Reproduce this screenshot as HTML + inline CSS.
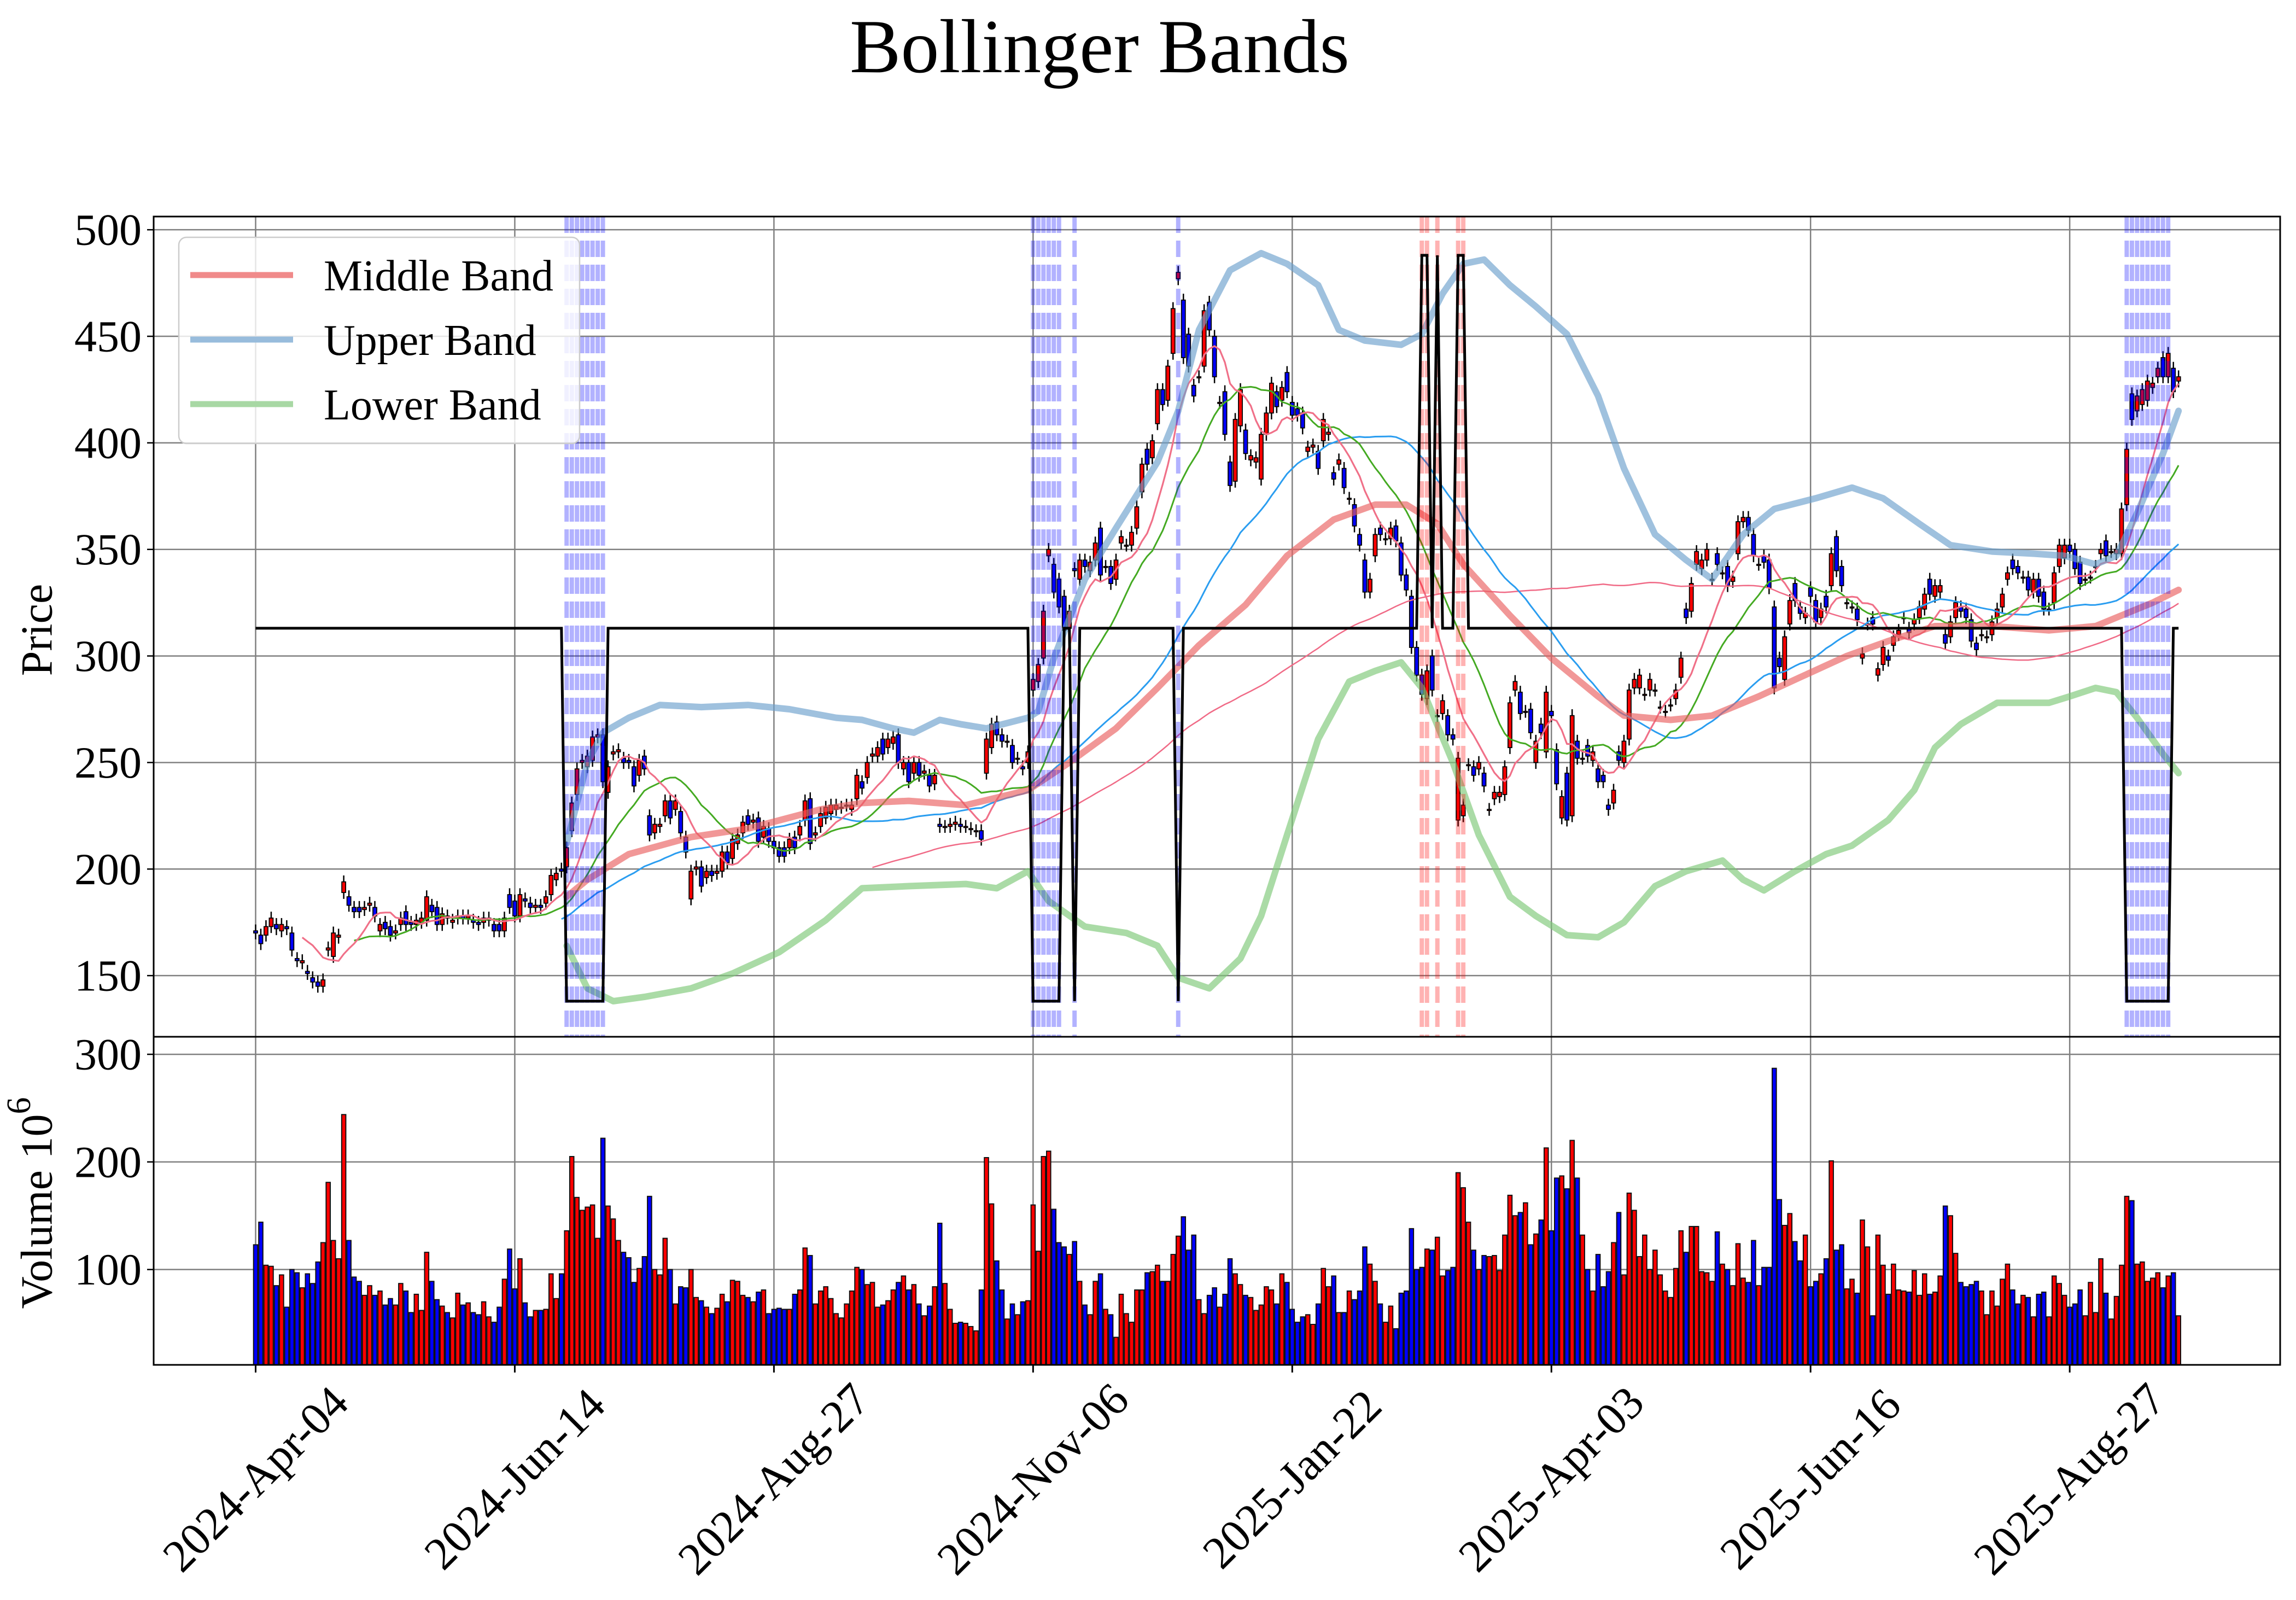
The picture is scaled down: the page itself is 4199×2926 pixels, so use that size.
<!DOCTYPE html>
<html><head><meta charset="utf-8"><title>Bollinger Bands</title>
<style>
html,body{margin:0;padding:0;background:#fff;}
svg{display:block;font-family:"Liberation Serif","DejaVu Serif",serif;}
</style></head>
<body>
<svg id="chart" xmlns="http://www.w3.org/2000/svg" width="4199" height="2926" viewBox="0 0 4199 2926">
<rect x="0" y="0" width="4199" height="2926" fill="#fff"/>
<text x="2011" y="132" font-size="140" text-anchor="middle" fill="#000">Bollinger Bands</text>
<g id="priceGrid"></g>
<g id="volGrid"></g>
<g id="candles"></g>
<g id="mas"></g>
<g id="bands"></g>
<g id="signals"></g>
<g id="sigline"></g>
<g id="volume"></g>
<g id="axes"></g>
<g id="legend">
  <rect x="327" y="434" width="733" height="377" rx="14" fill="#fff" fill-opacity="0.8" stroke="#cccccc" stroke-width="2.5"/>
  <line x1="348" y1="503" x2="536" y2="503" stroke="#f08a8a" stroke-width="11"/>
  <text x="592" y="531" font-size="80">Middle Band</text>
  <line x1="348" y1="621" x2="536" y2="621" stroke="#98bcdc" stroke-width="11"/>
  <text x="592" y="649" font-size="80">Upper Band</text>
  <line x1="348" y1="739" x2="536" y2="739" stroke="#a8d8a4" stroke-width="11"/>
  <text x="592" y="767" font-size="80">Lower Band</text>
</g>
</svg>
<script>
const opens = [
171,169,169,173,174,171,173,170,158,156,152,149,147,145,162,159,168,189,187,182,
182,181,183,182,171,175,173,170,174,180,175,174,175,176,183,182,174,178,175,177,
178,177,176,175,175,176,174,174,171,188,185,178,186,184,182,183,184,188,195,200,
201,218,235,250,248,251,262,263,236,254,255,252,251,248,244,253,225,217,220,225,
232,228,227,215,186,200,201,196,199,198,199,208,205,212,217,225,222,224,215,219,
213,210,210,210,215,216,223,233,216,220,224,226,228,229,230,228,233,241,243,253,
253,261,257,259,263,247,250,245,250,245,244,240,221,220,220,221,221,220,219,218,
218,245,257,269,263,260,258,252,248,250,284,288,299,347,343,336,328,313,341,336,
345,340,345,360,342,342,336,353,352,352,360,377,397,393,409,425,420,442,477,467,
451,427,431,436,466,450,419,424,391,382,408,406,392,391,383,404,414,424,420,433,
419,416,414,396,398,396,401,404,386,390,388,374,371,357,345,330,347,360,355,355,
361,353,338,328,304,291,280,300,272,273,272,263,223,225,249,248,247,245,228,233,
234,235,257,284,283,274,275,250,268,255,274,256,224,245,225,260,252,258,251,247,
244,230,231,255,250,261,285,285,282,284,284,276,274,277,280,290,322,321,343,341,
345,336,348,339,342,335,348,363,365,357,343,347,345,323,299,289,315,334,323,318,
332,326,318,328,333,356,342,325,323,322,299,315,318,291,296,300,305,310,318,313,
315,318,322,336,328,330,310,309,318,323,322,317,306,310,309,310,318,323,336,345,
342,337,337,330,336,330,322,325,342,346,352,350,344,336,337,342,348,354,349,348,
348,371,423,415,418,420,426,431,440,431,435,429];
const closes = [
170,165,173,177,172,174,172,162,157,157,151,147,145,148,163,170,169,194,183,180,
180,182,184,178,174,172,169,171,177,174,174,176,177,187,180,174,179,177,176,178,
177,178,175,174,177,177,171,171,177,182,178,188,185,182,183,182,187,197,198,199,
210,231,247,251,253,262,263,241,248,255,256,250,250,239,251,247,216,221,221,232,
224,232,217,208,199,201,192,199,197,199,208,203,214,216,222,221,223,213,220,213,
210,206,206,214,210,220,232,212,217,226,229,230,230,229,230,230,244,238,250,254,
257,254,261,262,250,250,241,250,244,246,239,244,220,220,221,222,220,220,219,218,
214,261,268,263,260,260,250,252,247,255,289,296,321,350,330,323,312,321,340,345,
342,344,353,338,342,334,345,356,352,358,370,390,390,401,425,418,436,463,480,440,
436,422,431,462,453,431,419,404,380,411,425,395,394,393,404,414,428,417,426,424,
413,413,407,398,399,388,411,405,383,392,379,374,361,352,330,336,357,357,355,360,
354,338,331,304,291,282,293,284,272,279,263,261,252,230,249,244,250,239,228,236,
236,248,278,288,273,274,264,260,264,283,272,240,234,223,272,252,252,253,255,241,
241,228,237,251,260,284,289,291,282,289,284,276,274,277,284,299,318,334,349,345,
350,336,343,339,333,337,363,365,359,347,343,344,332,285,295,309,326,326,320,320,
328,316,322,323,348,340,333,325,323,317,301,315,315,294,304,298,309,312,318,311,
317,323,329,329,333,333,306,316,325,321,318,307,303,310,309,316,322,329,339,341,
339,337,331,336,328,322,322,339,352,352,349,341,334,336,337,342,350,347,349,350,
369,397,411,422,425,429,428,435,431,442,424,431];
const volumes = [
123,144,104,103,85,95,65,100,97,83,96,87,107,125,181,127,110,244,127,93,
89,76,85,76,80,67,73,67,87,80,60,77,62,116,89,72,66,60,55,78,
67,69,60,58,70,56,51,65,91,119,82,110,69,56,62,62,63,96,73,96,
136,205,167,155,158,160,129,222,159,147,127,116,111,88,101,112,168,100,95,129,
100,68,84,83,100,74,71,65,59,64,77,
70,90,89,76,74,70,79,81,59,63,64,63,63,77,81,120,113,68,80,84,
73,59,55,68,80,102,100,86,88,65,67,71,81,88,94,81,86,68,57,66,
84,143,87,63,50,51,50,47,43,81,204,161,108,81,54,68,58,70,71,160,
117,205,210,156,125,121,114,126,89,67,58,89,96,63,58,37,77,59,51,81,
81,97,98,104,89,89,114,131,149,118,132,72,59,76,83,65,77,110,96,86,
76,74,62,67,84,81,
68,96,88,63,51,56,58,49,68,101,84,94,60,60,80,72,80,121,105,89,
68,51,66,45,78,80,138,100,102,119,118,130,94,99,102,190,176,144,118,100,
113,112,113,99,132,169,150,153,162,123,133,146,213,136,185,187,175,220,185,132,
100,80,114,84,98,125,153,95,171,155,112,132,100,118,95,80,74,101,136,116,
140,140,98,97,89,135,105,100,85,124,92,88,127,85,102,102,287,165,141,
152,126,108,132,84,89,96,110,201,118,123,82,91,78,146,121,57,132,104,77,
105,81,80,79,99,76,96,77,79,94,159,150,115,88,84,86,89,80,58,80,
66,91,105,81,68,76,74,56,77,79,56,94,87,76,65,68,81,57,88,60,
110,78,54,75,104,168,164,105,107,89,92,97,83,94,97,57];
// Bollinger band readings (sampled at bar indices)
const upperIdx = [60,64,67,72,78,86,95,103,112,117,123,127,132,136,141,149,151,154,160,166,174,178,182,188,194,199,205,209,214,221,225,229,233,237,242,247,253,259,264,270,276,281,287,293,301,308,314,321,327,335,343,349,355,359,363,368,371];
const upperVals = [212,250,264,271,277,276,277,275,271,270,266,264,270,268,266,271,274,299,336,360,391,415,453,481,489,484,474,453,448,446,451,470,484,486,474,464,451,422,388,357,345,336,357,369,374,379,374,362,352,349,348,347,343,347,367,395,415];
const lowerIdx = [60,64,69,75,84,92,101,110,117,126,137,143,149,153,160,168,174,178,184,190,194,199,205,211,216,221,225,231,236,242,247,253,259,264,270,276,283,287,291,297,303,308,315,320,324,329,336,346,350,355,359,363,368,371];
const lowerVals = [164,144,138,140,144,151,161,176,191,192,193,191,199,185,173,170,164,149,144,158,178,216,261,288,293,297,285,250,216,187,178,169,168,175,192,199,204,195,190,199,207,211,223,237,257,268,278,278,281,285,283,271,254,245];
const middleIdx = [60,64,72,84,95,109,117,126,137,149,157,166,174,182,191,199,208,216,222,228,233,242,250,259,264,273,281,290,298,307,315,324,335,346,355,360,366,371];
const middleVals = [187,195,207,215,219,228,231,232,230,237,250,266,285,305,324,347,364,371,371,362,343,319,299,281,272,270,272,281,290,300,307,314,314,312,314,319,325,331];
const buyIdx = [60,61,62,63,64,65,66,67,150,151,152,153,154,155,158,178,361,362,363,364,365,366,367,368,369];
const sellIdx = [225,226,228,232,233];
const tickIdx = [0,50,100,150,200,250,300,350];
const tickLabels = ['2024-Apr-04','2024-Jun-14','2024-Aug-27','2024-Nov-06','2025-Jan-22','2025-Apr-03','2025-Jun-16','2025-Aug-27'];
const priceTicks = [150,200,250,300,350,400,450,500];
const volTicks = [100,200,300];
const signalLevels = [138, 313, 488];

const NS='http://www.w3.org/2000/svg';
const PL=281, PR=4170, PT=396, PB=1896, VT=1896, VB=2496;
const P0=121.3, P1=506.2, V0=11.4, V1=316.3;
function xs(i){return 467.5+9.479*i;}
function ys(p){return PB-(p-P0)/(P1-P0)*(PB-PT);}
function yv(v){return VB-(v-V0)/(V1-V0)*(VB-VT);}
function mk(tag,attrs,parent){const e=document.createElementNS(NS,tag);for(const k in attrs)e.setAttribute(k,attrs[k]);parent.appendChild(e);return e;}
const $=id=>document.getElementById(id);

const pg=$('priceGrid');
priceTicks.forEach(p=>{
  const l=mk('line',{x1:PL,x2:PR,y1:ys(p),y2:ys(p),stroke:'#808080','stroke-width':2.5},pg);
  
  
});
tickIdx.forEach(i=>{
  const l=mk('line',{x1:xs(i),x2:xs(i),y1:PT,y2:PB,stroke:'#808080','stroke-width':2.5},pg);
  
  
});
const vg=$('volGrid');
volTicks.forEach(v=>{
  const l=mk('line',{x1:PL,x2:PR,y1:yv(v),y2:yv(v),stroke:'#808080','stroke-width':2.5},vg);
  
  
});
tickIdx.forEach(i=>{
  const l=mk('line',{x1:xs(i),x2:xs(i),y1:VT,y2:VB,stroke:'#808080','stroke-width':2.5},vg);
  
  
});

const cg=$('candles');
const wickPad=3;
for(let i=0;i<closes.length;i++){
  const o=opens[i],c=closes[i],up=c>=o;
  const hi=Math.max(o,c)+wickPad, lo=Math.min(o,c)-wickPad;
  const w=mk('line',{x1:xs(i),x2:xs(i),y1:ys(hi),y2:ys(lo),stroke:'#000','stroke-width':2.5},cg);
  
  
  const top=ys(Math.max(o,c)), bot=ys(Math.min(o,c));
  const b=mk('rect',{x:xs(i)-3.5,y:top,width:7,height:Math.max(bot-top,2),fill:up?'#ff0000':'#0000ff',stroke:'#000','stroke-width':1.8},cg);
  
  
}

function sma(n){const r=[];let s=0;for(let i=0;i<closes.length;i++){s+=closes[i];if(i>=n)s-=closes[i-n];r.push(i>=n-1?s/n:null);}return r;}
function pathOf(arr,start){let d='';for(let i=start;i<arr.length;i++){if(arr[i]==null)continue;d+=(d?'L':'M')+xs(i).toFixed(1)+' '+ys(arr[i]).toFixed(1);}return d;}
function pathXY(idx,vals){let d='';for(let k=0;k<idx.length;k++){d+=(k?'L':'M')+xs(idx[k]).toFixed(1)+' '+ys(vals[k]).toFixed(1);}return d;}
const mg=$('mas');
const maDefs=[[120,'#f06a86',2.5,'ma-120-line'],[50,'#2a9df0',3,'ma-50-line'],[20,'#44aa22',3,'ma-20-line'],[10,'#f07088',3.2,'ma-10-line']];
maDefs.forEach(d=>{
  const p=mk('path',{d:pathOf(sma(d[0]),d[0]===50?59:0),fill:'none',stroke:d[1],'stroke-width':d[2],'stroke-linejoin':'round'},mg);
  
  
});

const bg=$('bands');
[[middleIdx,middleVals,'#ea6060','middle-band-line'],[upperIdx,upperVals,'#6c9fcc','upper-band-line'],[lowerIdx,lowerVals,'#7cc776','lower-band-line']].forEach(d=>{
  const p=mk('path',{d:pathXY(d[0],d[1]),fill:'none',stroke:d[2],'stroke-width':12,'stroke-opacity':0.65,'stroke-linejoin':'round','stroke-linecap':'round'},bg);
  
  
});

const sg=$('signals');
buyIdx.forEach(i=>{
  const l=mk('line',{x1:xs(i),x2:xs(i),y1:PT,y2:PB,stroke:'#0000ff','stroke-opacity':0.3,'stroke-width':8,'stroke-dasharray':'30 14'},sg);
  
  
});
sellIdx.forEach(i=>{
  const l=mk('line',{x1:xs(i),x2:xs(i),y1:PT,y2:PB,stroke:'#ff0000','stroke-opacity':0.3,'stroke-width':8,'stroke-dasharray':'30 14'},sg);
  
  
});

let sd='';
for(let i=0;i<closes.length;i++){
  const lvl=buyIdx.includes(i)?signalLevels[0]:(sellIdx.includes(i)?signalLevels[2]:signalLevels[1]);
  sd+=(i?'L':'M')+xs(i).toFixed(1)+' '+ys(lvl).toFixed(1);
}
const sl=mk('path',{d:sd,fill:'none',stroke:'#000','stroke-width':5,'stroke-linejoin':'miter'},$('sigline'));



const vgp=$('volume');
for(let i=0;i<volumes.length;i++){
  const up=closes[i]>=opens[i];
  const r=mk('rect',{x:xs(i)-3.8,y:yv(volumes[i]),width:7.6,height:VB-yv(volumes[i]),fill:up?'#ff0000':'#0000ff',stroke:'#111','stroke-width':2},vgp);
  
  
}

const ax=$('axes');
const f1=mk('rect',{x:PL,y:PT,width:PR-PL,height:PB-PT,fill:'none',stroke:'#000','stroke-width':3},ax);


const f2=mk('rect',{x:PL,y:VT,width:PR-PL,height:VB-VT,fill:'none',stroke:'#000','stroke-width':3},ax);


priceTicks.forEach(p=>{
  const t=mk('line',{x1:PL-12,x2:PL,y1:ys(p),y2:ys(p),stroke:'#000','stroke-width':2.5},ax);
  
  
  const tx=mk('text',{x:PL-22,y:ys(p),'font-size':82,'text-anchor':'end','dominant-baseline':'central'},ax);
  tx.textContent=p;
  
  
});
volTicks.forEach(v=>{
  const t=mk('line',{x1:PL-12,x2:PL,y1:yv(v),y2:yv(v),stroke:'#000','stroke-width':2.5},ax);
  
  
  const tx=mk('text',{x:PL-22,y:yv(v),'font-size':82,'text-anchor':'end','dominant-baseline':'central'},ax);
  tx.textContent=v;
  
  
});
tickIdx.forEach((i,k)=>{
  const t=mk('line',{x1:xs(i),x2:xs(i),y1:VB,y2:VB+14,stroke:'#000','stroke-width':3},ax);
  
  
  const cx=xs(i), cy=2705;
  const tx=mk('text',{x:cx,y:cy,'font-size':84,'text-anchor':'middle','dominant-baseline':'central',transform:'rotate(-45 '+cx+' '+cy+')'},ax);
  tx.textContent=tickLabels[k];
  
  
});
const yl=mk('text',{x:67,y:1152,'font-size':82,'text-anchor':'middle','dominant-baseline':'central',transform:'rotate(-90 67 1152)'},ax);
yl.textContent='Price';


const vl=mk('text',{x:67,y:2200,'font-size':82,'text-anchor':'middle','dominant-baseline':'central',transform:'rotate(-90 67 2200)'},ax);


vl.appendChild(document.createTextNode('Volume  10'));
const sup=mk('tspan',{dy:-32,'font-size':62},vl);
sup.textContent='6';
</script>
</body></html>
